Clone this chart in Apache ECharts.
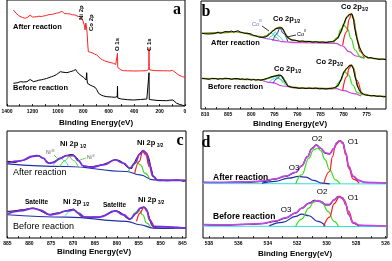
<!DOCTYPE html>
<html><head><meta charset="utf-8">
<script src="https://cdn.jsdelivr.net/npm/echarts@6/dist/echarts.min.js"></script>
<style>html,body{margin:0;padding:0;background:#fff}#c{width:392px;height:261px}</style>
</head><body><div id="c"></div>
<script>
// ---------- Panel a : survey spectra (Binding energy eV, intensity a.u.) ----------
var aTicks = [0,200,400,600,800,1000,1200,1400];
var aAfter = [[1350,96],[1340,94.5],[1330,93],[1322,91.5],[1310,90.5],[1295,89.3],[1280,88.6],[1265,88],[1256,87.7],[1245,88.3],[1235,89],[1225,90.5],[1218,91],[1210,89.5],[1200,89],[1191,88.7],[1170,89.2],[1150,89.8],[1130,89.5],[1112,90],[1090,90.5],[1070,91.4],[1050,91.6],[1034,92],[1010,92.8],[990,93.4],[975,94.6],[968,94.8],[960,93.2],[950,92.4],[942,92],[925,92.3],[910,91.8],[902,92],[885,91.2],[870,91.5],[864,91],[850,90.5],[840,89.5],[832,90.2],[824,89.3],[815,88],[805,86],[798,84.3],[790,80],[786,76],[783,79],[780,83],[777,81],[773,77],[770,73],[767,72.7],[764,60],[760,54.3],[745,53.5],[730,53.2],[720,52.7],[710,51.8],[700,51.5],[694,51],[680,49.5],[667,47.7],[650,46.2],[630,45],[615,44.3],[590,43.5],[563,42.7],[545,41.5],[536,41],[533,42],[531,52.7],[529,38.5],[523,37.7],[505,36.2],[484,35.3],[450,35.2],[406,35],[350,35.1],[301,35.3],[290,35.8],[285,36.7],[283,57.7],[281,36.4],[275,36],[250,35.5],[222,35.3],[170,35.2],[140,35.2],[118,35],[100,35.8],[92,36],[80,34],[65,32],[50,31],[39,30],[20,29.3],[0,28.7]];
var aBefore = [[1350,22.7],[1335,23.8],[1320,23.2],[1295,24.3],[1270,24],[1243,24.3],[1230,25.5],[1218,26.5],[1210,25],[1191,24.3],[1170,25],[1150,25.8],[1130,26.2],[1112,26.7],[1090,27.5],[1070,28.4],[1050,29.3],[1034,30],[1010,31.5],[995,33],[981,34.3],[970,34.8],[960,33.8],[945,33.6],[929,33.3],[910,34],[895,34.6],[877,35.3],[865,35],[860,36.5],[856,34.6],[850,34.3],[840,33],[824,31],[810,29.8],[798,28.7],[785,27],[778,26],[775,30],[773,33.3],[771,27],[767,22.7],[758,22],[746,21],[730,20],[715,19.5],[707,18.7],[695,16.5],[680,12.7],[660,11],[640,10],[615,9.3],[580,9],[550,8.7],[536,8.5],[533,9.5],[531,20],[529,8],[523,7.7],[500,7],[450,6.3],[406,6],[350,6.5],[300,7],[288,7.3],[285,7.5],[283,33.3],[281,6.5],[275,6],[220,5.6],[180,5.4],[144,5.3],[120,5.8],[105,6.7],[95,6],[80,4.5],[65,2.7],[40,1.5],[20,0.8],[0,0]];

// ---------- Panel b : Co 2p ----------
var bTicks = [775,780,785,790,795,800,805,810];
var bAfterRaw = [[810.7,75.7],[810.3,76.6],[809.9,75.1],[809.5,76.0],[809.1,75.0],[808.7,75.9],[808.2,75.3],[807.7,75.9],[807.2,76.8],[806.7,75.8],[806.2,76.5],[805.7,77.4],[805.3,76.4],[804.8,77.2],[804.3,78.0],[803.8,76.9],[803.4,77.6],[802.9,78.3],[802.4,76.9],[801.9,76.5],[801.4,75.6],[800.9,75.9],[800.5,74.7],[800.0,74.9],[799.5,73.6],[799.0,73.2],[798.5,72.1],[798.1,72.6],[797.6,71.6],[797.2,72.4],[796.8,72.2],[796.5,73.3],[796.1,74.6],[795.8,75.6],[795.4,77.6],[795.0,79.0],[794.7,80.2],[794.3,81.6],[794.0,81.0],[793.6,82.4],[793.3,81.2],[793.1,79.6],[792.8,77.0],[792.5,74.0],[792.1,71.5],[791.8,69.8],[791.4,69.2],[791.0,68.4],[790.3,68.6],[789.6,67.6],[788.9,68.0],[788.2,67.2],[787.5,67.6],[786.7,66.8],[786.0,67.3],[785.3,66.6],[784.5,67.0],[783.8,66.5],[783.1,67.1],[782.4,67.4],[781.9,68.5],[781.3,70.7],[780.9,74.0],[780.6,77.3],[780.2,81.5],[779.9,85.7],[779.6,89.0],[779.3,92.3],[779.0,93.2],[778.8,94.2],[778.6,95.0],[778.4,95.7],[778.2,95.2],[778.0,93.8],[777.8,89.0],[777.7,84.0],[777.4,77.0],[777.2,72.3],[776.9,67.0],[776.6,62.3],[776.2,58.5],[775.9,55.7],[775.5,53.8],[775.2,52.5],[774.6,51.2],[774.0,51.4],[773.4,50.4],[772.8,50.2],[772.3,49.6],[771.6,49.9],[770.8,49.5]];
var bAfterFit = [[810.7,75.7],[806,76.4],[803.4,77.2],[801.9,76.3],[799.0,73],[797.6,72],[796.5,73.2],[796.1,75.2],[795.2,78.6],[794.4,81.2],[793.8,81.8],[793.2,79.6],[792.6,75],[792.0,71],[791,68.8],[789,67.6],[784,66.8],[782.4,67.2],[781.3,70.7],[780.6,76.8],[780.0,84.5],[779.3,91.5],[778.6,94.8],[778.2,94.8],[777.8,90],[777.4,79],[776.9,67],[776.3,58],[775.5,53],[774.5,51],[772,50],[770.8,49.7]];
var bAfterBg = [[797.9,71.7],[796.1,70],[794.7,68.7],[793.2,67.3],[790.3,66.3],[781.7,65.7],[780.2,63],[778.8,57.3],[777.3,53],[775.9,50.7]];
var bAfterSat = [[797.6,71.7],[796.8,73],[796.3,75],[795.8,76.3],[795.3,75],[794.7,71.7],[794.0,69]];
var bAfterCo3 = [[796.5,69],[795.5,73],[794.8,77],[794.1,73],[793.1,68]];
var bAfterCo2 = [[795.3,68.3],[794.5,75],[793.8,81],[793.1,75.7],[792.1,67.7]];
var bAfterRed = [[780.2,63.7],[779.3,77.3],[778.8,89.7],[778.3,95],[777.8,89.7],[777.2,72.3],[776.4,57.3],[775.5,51]];
var bAfterGreen = [[782.2,65.7],[781.3,71.7],[780.6,79.7],[779.9,83.7],[779.1,79.7],[778.4,70.7],[777.5,59],[776.4,52.3],[775.5,50.3]];
var bBeforeRaw = [[810.7,30.7],[810.3,31.4],[809.9,30.2],[809.5,30.9],[809.1,29.7],[808.6,30.6],[808.2,29.9],[807.7,30.5],[807.2,29.7],[806.7,30.4],[806.2,30.0],[805.7,30.8],[805.3,29.9],[804.8,30.4],[804.3,29.6],[803.8,30.3],[803.4,29.7],[802.9,30.4],[802.4,29.6],[801.9,30.1],[801.4,29.4],[800.9,30.0],[800.5,29.6],[800.0,29.0],[799.5,29.6],[799.0,28.9],[798.5,29.4],[798.0,28.8],[797.6,29.1],[797.1,29.8],[796.5,30.7],[796.0,31.6],[795.5,32.4],[795.1,32.6],[794.7,33.1],[794.3,33.4],[794.0,34.0],[793.7,33.6],[793.4,33.2],[793.1,31.2],[792.9,29.0],[792.5,25.8],[792.1,23.0],[791.6,22.2],[791.1,21.7],[790.3,21.3],[789.6,20.6],[788.9,21.0],[788.2,20.4],[787.5,20.9],[786.7,20.5],[786.0,20.9],[785.3,20.2],[784.5,20.5],[783.8,20.0],[783.1,20.6],[782.4,20.8],[781.9,21.5],[781.3,23.0],[780.9,25.8],[780.6,29.0],[780.2,33.5],[779.9,37.3],[779.6,39.2],[779.3,40.7],[779.0,42.2],[778.8,43.0],[778.5,43.8],[778.3,44.0],[778.1,42.8],[777.9,40.7],[777.7,36.5],[777.5,32.3],[777.2,27.5],[777.0,23.0],[776.6,19.2],[776.2,16.3],[775.7,14.8],[775.2,14.0],[774.6,13.6],[774.0,13.2],[773.4,13.4],[772.8,12.7],[772.0,12.8],[771.4,12.2],[770.8,12.4]];
var bBeforeFit = [[810.7,30.5],[805,30.2],[800,29.5],[797.6,29.1],[796.5,30.5],[795.5,32.3],[794.5,33.4],[793.8,33.8],[793.2,32],[792.6,27],[792,23],[791,21.6],[788,20.8],[783,20.4],[782,20.8],[781.3,22.8],[780.6,28.6],[780.0,36],[779.3,40.6],[778.6,43.6],[778.2,43.8],[777.8,40.2],[777.4,31],[777.0,23.2],[776.4,17.5],[775.6,14.6],[774,13.3],[770.8,12.4]];
var bBeforeBg = [[797.9,29],[795.4,26.3],[793.2,23],[790.3,21],[781.7,20.3],[779.9,18.3],[778.0,15.7],[776.2,13]];
var bBeforeSat = [[797.2,29],[795.8,31],[794.8,33],[794.0,30.3],[793.1,25.7]];
var bBeforeCo3 = [[796.1,27],[795.0,30.3],[794.3,32.3],[793.6,29.7],[792.6,24]];
var bBeforeCo2 = [[795.3,25.7],[794.3,30.7],[793.7,33.7],[793.0,29.7],[792.1,23]];
var bBeforeRed = [[780.2,18.3],[779.3,32.3],[778.8,40.7],[778.3,43.7],[777.8,40.3],[777.2,29],[776.2,15.7]];
var bBeforeGreen = [[781.7,20.7],[780.8,27.3],[779.8,37.3],[778.9,34],[778.0,24],[777.0,16.3],[775.9,13.7]];

// ---------- Panel c : Ni 2p ----------
var cTicks = [845,850,855,860,865,870,875,880,885];
var cAfterRaw = [[885.0,76.7],[884.8,75.6],[884.4,76.9],[884.0,75.4],[883.6,75.7],[883.2,77.0],[882.8,76.2],[882.5,77.8],[882.1,77.4],[881.7,78.6],[881.3,77.9],[881.0,79.4],[880.6,79.0],[880.2,80.6],[879.8,81.0],[879.4,82.8],[879.1,82.1],[878.7,83.6],[878.3,83.0],[877.9,83.4],[877.6,82.2],[877.2,81.7],[876.8,79.8],[876.4,78.6],[876.0,76.7],[875.6,75.8],[875.3,74.6],[874.9,75.2],[874.5,76.2],[874.1,76.6],[873.8,77.9],[873.4,78.4],[873.0,79.8],[872.6,80.2],[872.2,81.8],[871.9,81.2],[871.5,82.6],[871.1,82.0],[870.7,83.6],[870.3,83.0],[869.9,83.4],[869.6,82.0],[869.2,80.6],[868.8,78.3],[868.4,75.8],[868.0,73.3],[867.6,72.0],[867.3,70.6],[866.9,70.2],[866.5,71.4],[866.1,70.5],[865.7,71.6],[865.4,71.0],[865.0,72.0],[864.6,71.2],[864.2,72.6],[863.9,72.1],[863.5,73.4],[863.1,72.9],[862.7,74.4],[862.3,75.0],[861.9,75.8],[861.6,76.9],[861.2,77.2],[860.8,77.8],[860.4,78.6],[860.1,78.1],[859.7,78.0],[859.3,77.0],[858.9,76.6],[858.5,74.8],[858.2,73.4],[857.8,71.7],[857.4,70.2],[857.0,68.6],[856.6,69.6],[856.3,72.9],[855.9,76.4],[855.5,80.0],[855.1,82.8],[854.7,85.0],[854.4,86.4],[854.1,87.9],[853.8,87.2],[853.6,86.7],[853.2,84.8],[852.8,81.7],[852.5,76.8],[852.3,71.7],[852.0,67.0],[851.8,63.3],[851.4,60.6],[851.0,58.2],[850.6,58.6],[850.2,57.5],[849.8,58.4],[849.4,57.6],[849.0,58.6],[848.7,57.4],[848.3,58.1],[847.9,57.5],[847.5,58.7],[847.1,57.9],[846.7,58.9],[846.4,58.1],[846.0,57.2],[845.6,57.9],[845.2,56.6],[844.8,56.8],[844.3,57.2]];
var cAfterFit = [[885.0,75],[882.1,77.3],[879.1,82],[877.9,82.3],[876.8,80],[875.7,75],[874.5,75.7],[873.0,79.7],[871.5,82.7],[869.9,82.7],[868.8,77.7],[867.7,72.3],[865.8,71],[863.1,73.3],[860.4,78.3],[858.5,75],[857.0,70],[855.9,75],[854.7,84.3],[854.0,87.7],[853.2,85],[852.5,73.3],[851.7,61.7],[850.6,57.7],[844.3,57.7]];
var cAfterBg = [[885.0,74.3],[871.5,71.7],[857.8,66.7],[854.7,63.3],[851.7,58.3],[844.3,57.7]];
var cAfterNi3 = [[874.5,73.3],[873.6,77.7],[872.8,80],[872.1,77.7],[871.1,72.3]];
var cAfterNi2 = [[873.0,71.7],[871.8,77.7],[870.9,81.7],[869.9,77.7],[868.8,71]];
var cAfterRed = [[855.9,65],[854.9,76.7],[854.1,86.7],[853.4,83.3],[852.6,71.7],[851.8,61.7],[850.9,58.3]];
var cAfterGreen = [[857.4,66.7],[856.4,71.7],[855.5,76.7],[854.6,73.3],[853.6,65],[852.6,60]];
var cBeforeRaw = [[885.0,26.7],[884.8,27.9],[884.4,26.8],[884.0,27.6],[883.6,27.2],[883.2,28.4],[882.8,27.6],[882.5,28.8],[882.1,28.2],[881.7,29.4],[881.3,28.4],[881.0,29.6],[880.6,29.0],[880.2,30.4],[879.8,29.6],[879.4,30.8],[879.1,30.0],[878.7,30.4],[878.3,29.2],[877.9,29.0],[877.6,27.6],[877.2,27.0],[876.8,25.7],[876.4,25.0],[876.0,23.8],[875.6,24.2],[875.3,23.3],[874.9,23.9],[874.5,24.4],[874.1,24.1],[873.8,25.0],[873.4,25.6],[873.0,25.3],[872.6,26.5],[872.2,26.7],[871.9,27.6],[871.5,27.2],[871.1,28.4],[870.7,28.3],[870.3,29.2],[869.9,29.0],[869.6,28.0],[869.2,26.7],[868.8,24.6],[868.4,22.3],[868.0,21.8],[867.6,21.0],[867.3,21.6],[866.9,21.0],[866.5,21.8],[866.1,20.8],[865.7,21.4],[865.4,21.0],[865.0,21.8],[864.6,20.9],[864.2,21.6],[863.9,21.0],[863.5,22.0],[863.1,22.3],[862.7,23.0],[862.3,23.3],[861.9,24.4],[861.6,25.0],[861.2,26.2],[860.8,26.7],[860.4,27.6],[860.1,27.3],[859.7,26.8],[859.3,26.0],[858.9,25.0],[858.5,23.4],[858.2,21.9],[857.8,20.0],[857.4,19.2],[857.0,18.3],[856.6,19.8],[856.3,21.6],[855.9,23.3],[855.5,25.8],[855.1,27.8],[854.9,29.0],[854.5,30.2],[854.0,31.0],[853.7,30.6],[853.4,30.0],[853.1,27.6],[852.8,23.3],[852.5,18.6],[852.1,13.3],[851.7,11.2],[851.3,10.4],[850.9,10.0],[850.5,10.8],[850.1,9.8],[849.7,10.6],[849.3,9.6],[848.9,10.4],[848.5,9.8],[848.1,10.6],[847.7,9.9],[847.3,10.8],[846.9,10.1],[846.4,10.7],[846.0,9.8],[845.6,10.4],[845.2,9.6],[844.8,10.2],[844.3,10.0]];
var cBeforeFit = [[885.0,24.3],[882.1,27.3],[879.1,29.7],[877.6,28.3],[875.3,23.3],[873.8,24.3],[871.5,27.3],[869.9,28.3],[868.8,25],[867.3,21],[863.9,21],[860.4,27.3],[858.5,23.3],[857.0,19],[855.5,25],[854.7,30],[853.8,31],[853.2,28.3],[852.5,18.3],[851.7,11.7],[844.3,10]];
var cBeforeBg = [[885.0,23.3],[871.5,21],[857.8,16.7],[854.7,13.3],[851.7,10],[844.3,10]];
var cBeforeNi = [[871.8,22.3],[870.7,26.7],[869.8,28.3],[868.8,25],[867.8,21]];
var cBeforeRed = [[855.5,16.7],[854.7,25],[853.8,31],[853.1,26.7],[852.3,16.7],[851.5,11]];
var cBeforeGreen = [[856.6,19],[855.9,25],[855.0,28.3],[854.1,23.3],[853.2,15],[852.3,11]];

// ---------- Panel d : O 1s ----------
var dTicks = [526,528,530,532,534,536,538];
var dAfterRaw = [[538.4,55.7],[537.5,55.3],[536.6,55.9],[535.5,56],[534.4,56.7],[533.5,59],[532.8,61.7],[532.1,65.7],[531.7,72.3],[531.3,81.7],[531.0,90],[530.7,93.3],[530.4,90],[530.1,85],[529.8,84.3],[529.5,90],[529.3,95.7],[529.1,97.7],[528.9,95.7],[528.7,85],[528.5,71.7],[528.2,61.7],[527.8,57.7],[527.4,55.7],[526.8,55.4],[525.9,55]];
var dAfterFit = [[538.4,55.9],[536.6,55.9],[535.5,56.2],[534.4,57],[533.5,59.2],[532.8,62],[532.1,66],[531.7,72.5],[531.3,81.5],[531.0,89.5],[530.7,93],[530.4,90],[530.1,85.5],[529.8,84.5],[529.5,90],[529.3,95.5],[529.1,97.5],[528.9,95.5],[528.7,85.5],[528.5,72],[528.2,62],[527.8,57.5],[527.4,55.8],[525.9,55.2]];
var dAfterBase = [[538.4,54.6],[525.9,54.2]];
var dAfterO3 = [[534.4,55],[533.5,56.7],[532.6,60],[531.9,61.7],[531.4,61],[530.9,57.7],[530.3,55],[529.8,54.2]];
var dAfterO2 = [[532.1,54.3],[531.7,63.3],[531.2,80],[530.9,88.3],[530.6,90],[530.4,87.7],[530.1,78.3],[529.8,68.3],[529.4,58.3],[529.1,54.3]];
var dAfterO1 = [[530.2,54.3],[529.8,66.7],[529.6,81.7],[529.4,93.3],[529.1,97.3],[528.9,94.3],[528.7,83.3],[528.5,70],[528.2,59],[527.8,55]];
var dBeforeRaw = [[538.4,13.3],[537.5,12.8],[536.6,13],[535.5,13.7],[534.4,14.3],[533.5,16.7],[532.8,20],[532.1,25],[531.7,30],[531.2,35],[530.8,37.7],[530.4,36.7],[530.1,33.3],[529.8,33.3],[529.5,38.3],[529.2,41.7],[528.9,40],[528.7,33.3],[528.5,23.3],[528.2,15],[527.8,12.7],[527.0,12.2],[525.9,11.7]];
var dBeforeFit = [[538.4,13.5],[536.6,13.3],[535.5,13.8],[534.4,14.6],[533.5,17],[532.8,20.3],[532.1,25.2],[531.7,29.8],[531.2,34.6],[530.8,37.4],[530.4,36.6],[530.1,33.8],[529.8,33.8],[529.5,38],[529.2,41.4],[528.9,39.8],[528.7,33.6],[528.5,23.8],[528.2,15.4],[527.8,12.8],[525.9,11.8]];
var dBeforeBase = [[538.4,11.9],[525.9,11.4]];
var dBeforeO3 = [[533.9,12.3],[533.0,15.7],[532.1,21.7],[531.7,24],[531.2,22.3],[530.6,16.7],[530.1,12.3]];
var dBeforeO2 = [[532.1,11.7],[531.7,19],[531.2,30],[530.9,35.7],[530.6,37.7],[530.3,35],[529.9,26.7],[529.5,16.7],[529.2,11.7]];
var dBeforeO1 = [[530.2,11.7],[529.8,21],[529.5,34.3],[529.1,41.7],[528.8,37.7],[528.5,26.7],[528.2,15.7],[527.8,11.7]];

// ---------- build ----------
var FONT = '"Liberation Sans", Arial, sans-serif';
function halfTicks(t){var r=[];for(var i=0;i<t.length;i++){r.push(t[i]);if(i<t.length-1)r.push((t[i]+t[i+1])/2);}return r;}
function xa(gi,min,max,ticks){
  return {type:'value',gridIndex:gi,inverse:true,min:min,max:max,
    axisLine:{show:false},splitLine:{show:false},
    axisTick:{show:true,inside:true,length:2,lineStyle:{color:'#000',width:0.8},customValues:halfTicks(ticks)},
    axisLabel:{customValues:ticks,fontSize:5,fontWeight:'bold',color:'#000',margin:3,fontFamily:FONT,
      formatter:function(v){return String(v);}}};
}
function ya(gi,max){return {type:'value',gridIndex:gi,min:0,max:max,show:false};}
function L(gi,data,color,w,smooth){
  return {type:'line',xAxisIndex:gi,yAxisIndex:gi,data:data,symbol:'none',showSymbol:false,
    smooth:smooth?0.45:false,smoothMonotone:smooth?'x':undefined,
    lineStyle:{color:color,width:w},silent:true,animation:false};
}
var G=function(l,t,w,h){return {left:l,top:t,width:w,height:h,show:true,borderColor:'#000',borderWidth:1,backgroundColor:'transparent',containLabel:false,outerBoundsMode:'none'};};

var OL='#8e9e1e', MG='#cc44dd', GR='#3ddc1e', RD='#ff1a1a', BL='#2233dd', CY='#33dcdc', PU='#7a2ee0', NB='#2230a8', DM='#c445ea';

var series = [
  L(0,aAfter,'#ff2222',1,false), L(0,aBefore,'#000',1,false),
  // b
  L(1,bAfterBg,MG,1.2,true), L(1,bAfterSat,GR,1,true), L(1,bAfterCo3,CY,1,true), L(1,bAfterCo2,BL,1,true),
  L(1,bAfterGreen,GR,1.2,true), L(1,bAfterRed,RD,1.2,true), L(1,bAfterFit,OL,1.6,true), L(1,bAfterRaw,'#000',1,false),
  L(1,bBeforeBg,MG,1.2,true), L(1,bBeforeSat,GR,1,true), L(1,bBeforeCo3,CY,1,true), L(1,bBeforeCo2,BL,1,true),
  L(1,bBeforeGreen,GR,1.2,true), L(1,bBeforeRed,RD,1.2,true), L(1,bBeforeFit,OL,1.6,true), L(1,bBeforeRaw,'#000',1,false),
  // c
  L(2,cAfterRaw,'#000',1,false), L(2,cAfterBg,NB,1.2,true), L(2,cAfterNi3,CY,1,true), L(2,cAfterNi2,GR,1,true),
  L(2,cAfterGreen,GR,1.2,true), L(2,cAfterRed,RD,1.2,true), L(2,cAfterFit,PU,1.8,true),
  L(2,cBeforeRaw,'#000',1,false), L(2,cBeforeBg,NB,1.2,true), L(2,cBeforeNi,CY,1,true),
  L(2,cBeforeGreen,GR,1.2,true), L(2,cBeforeRed,RD,1.2,true), L(2,cBeforeFit,PU,1.8,true),
  // d
  L(3,dAfterRaw,'#000',1.2,true), L(3,dAfterBase,CY,1,false), L(3,dAfterO3,NB,1.2,true), L(3,dAfterO2,GR,1.2,true), L(3,dAfterO1,RD,1.2,true), L(3,dAfterFit,DM,1.6,true),
  L(3,dBeforeRaw,'#000',1.2,true), L(3,dBeforeBase,CY,1,false), L(3,dBeforeO3,NB,1.2,true), L(3,dBeforeO2,GR,1.2,true), L(3,dBeforeO1,RD,1.2,true), L(3,dBeforeFit,DM,1.6,true)
];

function T(text,x,y,font,opt){
  opt=opt||{};
  return {type:'text',x:x,y:y,rotation:opt.rot||0,z:100,silent:true,
    style:{text:text,font:font,fill:opt.fill||'#000',textAlign:opt.align||'left',align:opt.align||'left',
      textVerticalAlign:opt.va||'middle',verticalAlign:opt.va||'middle'}};
}
function LN(x1,y1,x2,y2,c){return {type:'line',z:100,silent:true,shape:{x1:x1,y1:y1,x2:x2,y2:y2},style:{stroke:c,lineWidth:0.8}};}
var B7='bold 7.5px '+FONT, SUB='bold 4.5px '+FONT, AX='bold 8px '+FONT, SER='bold 16px "Liberation Serif", "DejaVu Serif", serif';
function peakLabel(main,sub,x,y,f,sf,w){return [T(main,x,y,f),T(sub,x+w,y+2.5,sf)];}

var graphics = [
  // a
  T('After reaction',13,27,B7), T('Before reaction',13,88,B7),
  T('Ni 2p',81,20,'bold 6px '+FONT,{rot:Math.PI/2}), T('Co 2p',91,31,'bold 6px '+FONT,{rot:Math.PI/2}),
  T('O 1s',117,51,'bold 6px '+FONT,{rot:Math.PI/2}), T('C 1s',149,51,'bold 6px '+FONT,{rot:Math.PI/2}),
  T('a',177,10,SER,{align:'center'}),
  T('Binding Energy(eV)',96,123,AX,{align:'center'}),
  // b
  T('b',206,12,SER,{align:'center'}),
  T('After reaction',211,43,B7), T('Before reaction',208,87,B7),
  T('Co',252,24,'5.5px '+FONT,{fill:'#6a78c8'}), T('III',259,21.5,'3.5px '+FONT,{fill:'#6a78c8'}),
  LN(262,26,269,31,'#000'),
  T('Co',297,34,'5.5px '+FONT), T('II',304,31.5,'3.5px '+FONT),
  LN(296,35,287,37,'#000'),
  T('Binding Energy(eV)',290,124,AX,{align:'center'}),
  // c
  T('c',180,141,SER,{align:'center'}),
  T('After reaction',13,173,'9px '+FONT), T('Before reaction',13,227,'9px '+FONT),
  T('Satelite',25,202,'bold 6.5px '+FONT), T('Satelite',103,205,'bold 6.5px '+FONT),
  T('Ni',46,153,'5px '+FONT,{fill:'#555'}), T('III',51.5,151,'3.5px '+FONT,{fill:'#555'}),
  T('Ni',87,158,'5px '+FONT,{fill:'#555'}), T('II',92.5,156,'3.5px '+FONT,{fill:'#555'}),
  LN(54,155,58,159,'#3ddc1e'), LN(86,158,80,160,'#3ddc1e'),
  T('Binding Energy(eV)',94,252,AX,{align:'center'}),
  // d
  T('d',206,143,SER,{align:'center'}),
  T('After reaction',213,178,'bold 8.5px '+FONT), T('Before reaction',213,217,'bold 8.5px '+FONT),
  T('O2',317,139,'8px '+FONT,{align:'center'}), T('O1',353,142,'8px '+FONT,{align:'center'}), T('O3',294,168,'8px '+FONT,{align:'center'}),
  T('O2',322,192,'8px '+FONT,{align:'center'}), T('O1',353,198,'8px '+FONT,{align:'center'}), T('O3',286,210,'8px '+FONT,{align:'center'}),
  T('Binding Energy(eV)',295,254,AX,{align:'center'})
];
graphics = graphics.concat(
  peakLabel('Co 2p','1/2',273,19,B7,SUB,21),
  peakLabel('Co 2p','3/2',341,7,B7,SUB,21),
  peakLabel('Co 2p','1/2',274,69,B7,SUB,21),
  peakLabel('Co 2p','3/2',316,62,B7,SUB,21),
  peakLabel('Ni 2p','1/2',60,144,B7,SUB,20),
  peakLabel('Ni 2p','3/2',137,143,B7,SUB,20),
  peakLabel('Ni 2p','1/2',63,202,B7,SUB,20),
  peakLabel('Ni 2p','3/2',138,200,B7,SUB,20)
);

var chart = echarts.init(document.getElementById('c'),null,{renderer:'canvas'});
chart.setOption({
  animation:false,
  grid:[G(7,0,178,106),G(201,1,185,108),G(7,131,179,107),G(203,131,184,107)],
  xAxis:[xa(0,0,1400,aTicks),xa(1,770.8,810.9,bTicks),xa(2,844.2,885.1,cTicks),xa(3,525.9,538.4,dTicks)],
  yAxis:[ya(0,106),ya(1,108),ya(2,107.3),ya(3,107.3)],
  series:series,
  graphic:graphics
});
</script></body></html>
